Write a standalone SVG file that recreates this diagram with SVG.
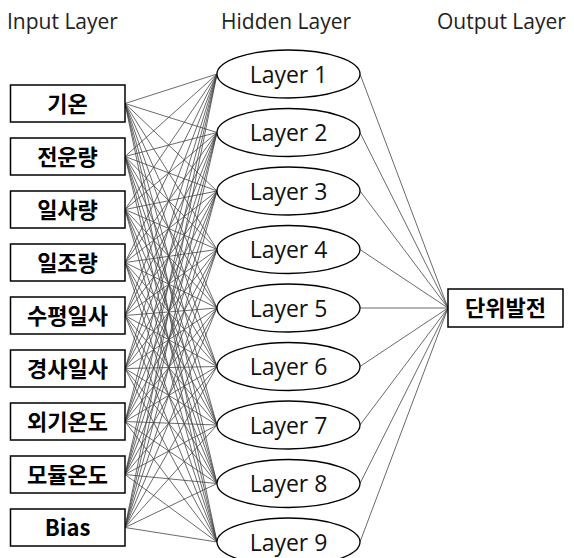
<svg xmlns="http://www.w3.org/2000/svg" width="574" height="558" viewBox="0 0 574 558">
<style>
.hdr{font-family:"Open Sans","Noto Sans",sans-serif;font-size:21px;fill:#222}
.lbl{font-family:"Open Sans","Noto Sans",sans-serif;font-size:23px;fill:#111;text-anchor:middle}
.kr{font-family:"Noto Sans CJK KR","Noto Sans",sans-serif;font-size:22px;font-weight:bold;fill:#000;text-anchor:middle}
.box{fill:#fff;stroke:#000;stroke-width:1.5}
.ell{fill:#fff;stroke:#000;stroke-width:1.3}
.con line{stroke:#444;stroke-width:0.8}
</style>
<rect width="574" height="558" fill="#fff"/>
<text class="hdr" x="7" y="29">Input Layer</text>
<text class="hdr" x="221" y="29">Hidden Layer</text>
<text class="hdr" x="437" y="29">Output Layer</text>
<g id="connectors" class="con">
<line x1="125" y1="103.5" x2="217" y2="74"/><line x1="125" y1="103.5" x2="217" y2="132.5"/><line x1="125" y1="103.5" x2="217" y2="191"/><line x1="125" y1="103.5" x2="217" y2="249.5"/><line x1="125" y1="103.5" x2="217" y2="308"/><line x1="125" y1="103.5" x2="217" y2="366.5"/><line x1="125" y1="103.5" x2="217" y2="425"/><line x1="125" y1="103.5" x2="217" y2="483.5"/><line x1="125" y1="103.5" x2="217" y2="542"/>
<line x1="125" y1="156.5" x2="217" y2="74"/><line x1="125" y1="156.5" x2="217" y2="132.5"/><line x1="125" y1="156.5" x2="217" y2="191"/><line x1="125" y1="156.5" x2="217" y2="249.5"/><line x1="125" y1="156.5" x2="217" y2="308"/><line x1="125" y1="156.5" x2="217" y2="366.5"/><line x1="125" y1="156.5" x2="217" y2="425"/><line x1="125" y1="156.5" x2="217" y2="483.5"/><line x1="125" y1="156.5" x2="217" y2="542"/>
<line x1="125" y1="209.5" x2="217" y2="74"/><line x1="125" y1="209.5" x2="217" y2="132.5"/><line x1="125" y1="209.5" x2="217" y2="191"/><line x1="125" y1="209.5" x2="217" y2="249.5"/><line x1="125" y1="209.5" x2="217" y2="308"/><line x1="125" y1="209.5" x2="217" y2="366.5"/><line x1="125" y1="209.5" x2="217" y2="425"/><line x1="125" y1="209.5" x2="217" y2="483.5"/><line x1="125" y1="209.5" x2="217" y2="542"/>
<line x1="125" y1="262.5" x2="217" y2="74"/><line x1="125" y1="262.5" x2="217" y2="132.5"/><line x1="125" y1="262.5" x2="217" y2="191"/><line x1="125" y1="262.5" x2="217" y2="249.5"/><line x1="125" y1="262.5" x2="217" y2="308"/><line x1="125" y1="262.5" x2="217" y2="366.5"/><line x1="125" y1="262.5" x2="217" y2="425"/><line x1="125" y1="262.5" x2="217" y2="483.5"/><line x1="125" y1="262.5" x2="217" y2="542"/>
<line x1="125" y1="315.5" x2="217" y2="74"/><line x1="125" y1="315.5" x2="217" y2="132.5"/><line x1="125" y1="315.5" x2="217" y2="191"/><line x1="125" y1="315.5" x2="217" y2="249.5"/><line x1="125" y1="315.5" x2="217" y2="308"/><line x1="125" y1="315.5" x2="217" y2="366.5"/><line x1="125" y1="315.5" x2="217" y2="425"/><line x1="125" y1="315.5" x2="217" y2="483.5"/><line x1="125" y1="315.5" x2="217" y2="542"/>
<line x1="125" y1="368.5" x2="217" y2="74"/><line x1="125" y1="368.5" x2="217" y2="132.5"/><line x1="125" y1="368.5" x2="217" y2="191"/><line x1="125" y1="368.5" x2="217" y2="249.5"/><line x1="125" y1="368.5" x2="217" y2="308"/><line x1="125" y1="368.5" x2="217" y2="366.5"/><line x1="125" y1="368.5" x2="217" y2="425"/><line x1="125" y1="368.5" x2="217" y2="483.5"/><line x1="125" y1="368.5" x2="217" y2="542"/>
<line x1="125" y1="421.5" x2="217" y2="74"/><line x1="125" y1="421.5" x2="217" y2="132.5"/><line x1="125" y1="421.5" x2="217" y2="191"/><line x1="125" y1="421.5" x2="217" y2="249.5"/><line x1="125" y1="421.5" x2="217" y2="308"/><line x1="125" y1="421.5" x2="217" y2="366.5"/><line x1="125" y1="421.5" x2="217" y2="425"/><line x1="125" y1="421.5" x2="217" y2="483.5"/><line x1="125" y1="421.5" x2="217" y2="542"/>
<line x1="125" y1="474.5" x2="217" y2="74"/><line x1="125" y1="474.5" x2="217" y2="132.5"/><line x1="125" y1="474.5" x2="217" y2="191"/><line x1="125" y1="474.5" x2="217" y2="249.5"/><line x1="125" y1="474.5" x2="217" y2="308"/><line x1="125" y1="474.5" x2="217" y2="366.5"/><line x1="125" y1="474.5" x2="217" y2="425"/><line x1="125" y1="474.5" x2="217" y2="483.5"/><line x1="125" y1="474.5" x2="217" y2="542"/>
<line x1="125" y1="527.5" x2="217" y2="74"/><line x1="125" y1="527.5" x2="217" y2="132.5"/><line x1="125" y1="527.5" x2="217" y2="191"/><line x1="125" y1="527.5" x2="217" y2="249.5"/><line x1="125" y1="527.5" x2="217" y2="308"/><line x1="125" y1="527.5" x2="217" y2="366.5"/><line x1="125" y1="527.5" x2="217" y2="425"/><line x1="125" y1="527.5" x2="217" y2="483.5"/><line x1="125" y1="527.5" x2="217" y2="542"/>
<line x1="360" y1="74" x2="448" y2="308"/><line x1="360" y1="132.5" x2="448" y2="308"/><line x1="360" y1="191" x2="448" y2="308"/><line x1="360" y1="249.5" x2="448" y2="308"/><line x1="360" y1="308" x2="448" y2="308"/><line x1="360" y1="366.5" x2="448" y2="308"/><line x1="360" y1="425" x2="448" y2="308"/><line x1="360" y1="483.5" x2="448" y2="308"/><line x1="360" y1="542" x2="448" y2="308"/>
</g>
<g id="in1"><rect class="box" x="10.5" y="85" width="114.5" height="37"/><text class="kr" x="67.5" y="111.5">기온</text></g>
<g id="in2"><rect class="box" x="10.5" y="138" width="114.5" height="37"/><text class="kr" x="67.5" y="164.5">전운량</text></g>
<g id="in3"><rect class="box" x="10.5" y="191" width="114.5" height="37"/><text class="kr" x="67.5" y="217.5">일사량</text></g>
<g id="in4"><rect class="box" x="10.5" y="244" width="114.5" height="37"/><text class="kr" x="67.5" y="270.5">일조량</text></g>
<g id="in5"><rect class="box" x="10.5" y="297" width="114.5" height="37"/><text class="kr" x="67.5" y="323.5">수평일사</text></g>
<g id="in6"><rect class="box" x="10.5" y="350" width="114.5" height="37"/><text class="kr" x="67.5" y="376.5">경사일사</text></g>
<g id="in7"><rect class="box" x="10.5" y="403" width="114.5" height="37"/><text class="kr" x="67.5" y="429.5">외기온도</text></g>
<g id="in8"><rect class="box" x="10.5" y="456" width="114.5" height="37"/><text class="kr" x="67.5" y="482.5">모듈온도</text></g>
<g id="in9"><rect class="box" x="10.5" y="509" width="114.5" height="37"/><text class="kr" x="67.5" y="535.5">Bias</text></g>
<g id="h1"><ellipse class="ell" cx="288.5" cy="74" rx="71.5" ry="24"/><text class="lbl" x="288.5" y="82.5">Layer 1</text></g>
<g id="h2"><ellipse class="ell" cx="288.5" cy="132.5" rx="71.5" ry="24"/><text class="lbl" x="288.5" y="141">Layer 2</text></g>
<g id="h3"><ellipse class="ell" cx="288.5" cy="191" rx="71.5" ry="24"/><text class="lbl" x="288.5" y="199.5">Layer 3</text></g>
<g id="h4"><ellipse class="ell" cx="288.5" cy="249.5" rx="71.5" ry="24"/><text class="lbl" x="288.5" y="258">Layer 4</text></g>
<g id="h5"><ellipse class="ell" cx="288.5" cy="308" rx="71.5" ry="24"/><text class="lbl" x="288.5" y="316.5">Layer 5</text></g>
<g id="h6"><ellipse class="ell" cx="288.5" cy="366.5" rx="71.5" ry="24"/><text class="lbl" x="288.5" y="375">Layer 6</text></g>
<g id="h7"><ellipse class="ell" cx="288.5" cy="425" rx="71.5" ry="24"/><text class="lbl" x="288.5" y="433.5">Layer 7</text></g>
<g id="h8"><ellipse class="ell" cx="288.5" cy="483.5" rx="71.5" ry="24"/><text class="lbl" x="288.5" y="492">Layer 8</text></g>
<g id="h9"><ellipse class="ell" cx="288.5" cy="542" rx="71.5" ry="24"/><text class="lbl" x="288.5" y="550.5">Layer 9</text></g>
<g id="out"><rect class="box" x="448" y="289" width="115" height="38"/><text class="kr" x="505.5" y="316">단위발전</text></g>
</svg>
